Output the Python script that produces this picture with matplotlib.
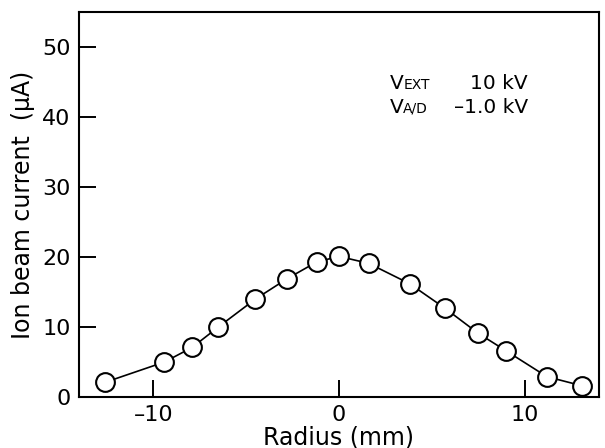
import matplotlib
matplotlib.use("Agg")
import matplotlib.pyplot as plt

# Data
radius_mm = [-12.6, -9.4, -7.9, -6.5, -4.5, -2.8, -1.2, 0.0, 1.6, 3.8, 5.7, 7.5, 9.0, 11.2, 13.1]
current_uA = [2.1, 5.0, 7.1, 10.0, 14.0, 16.9, 19.3, 20.1, 19.1, 16.2, 12.7, 9.1, 6.6, 2.9, 1.6]
x_ticks = [-10, 0, 10]
x_tick_labels = ['\u201310', '0', '10']
y_ticks = [0, 10, 20, 30, 40, 50]

plt.rcParams['font.family'] = ['DejaVu Sans']

fig = plt.figure(figsize=(6.05, 4.48), dpi=100)
ax = fig.add_axes([0.1306, 0.1138, 0.8594, 0.859])

ax.plot(radius_mm, current_uA, color='black', linewidth=1.2,
        marker='o', markersize=13.5, markerfacecolor='white',
        markeredgecolor='black', markeredgewidth=1.5, zorder=3)

ax.set_xlim(-14, 14)
ax.set_ylim(0, 55)
ax.set_xticks(x_ticks)
ax.set_xticklabels(x_tick_labels)
ax.set_yticks(y_ticks)
ax.tick_params(axis='both', direction='in', length=12, width=1.4,
               labelsize=16, colors='black')
ax.tick_params(axis='x', pad=6)
ax.tick_params(axis='y', pad=6)
for s in ax.spines.values():
    s.set_linewidth(1.5)

ax.set_xlabel('Radius (mm)', fontsize=17, labelpad=0)
ax.set_ylabel('Ion beam current  (\u03bcA)', fontsize=17, labelpad=5)

# Annotation
ax.text(2.76, 43.96, 'V', fontsize=14.5, ha='left', va='baseline')
ax.text(3.46, 43.96, 'EXT', fontsize=10, ha='left', va='baseline')
ax.text(10.16, 43.96, '10 kV', fontsize=14.5, ha='right', va='baseline')
ax.text(2.76, 40.6, 'V', fontsize=14.5, ha='left', va='baseline')
ax.text(3.46, 40.6, 'A/D', fontsize=10, ha='left', va='baseline')
ax.text(10.16, 40.6, '\u20131.0 kV', fontsize=14.5, ha='right', va='baseline')

fig.savefig('out.png', dpi=100)
